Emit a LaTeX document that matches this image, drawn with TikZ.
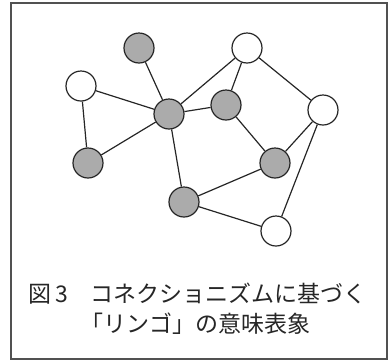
\documentclass[tikz,border=0pt]{standalone}
\usepackage{fontspec}
\newfontfamily\jfont{Noto Sans CJK JP}
\definecolor{nodegrey}{HTML}{ABABAB}
\definecolor{ink}{HTML}{262626}
\begin{document}
\begin{tikzpicture}[x=1bp,y=-1bp,
  unit/.style={circle,draw=ink,line width=1.2bp,minimum size=30bp,inner sep=0pt},
  on/.style={unit,fill=nodegrey},
  off/.style={unit,fill=white},
  link/.style={draw=ink,line width=1.2bp},
  captxt/.style={font=\jfont\fontsize{23bp}{27bp}\selectfont,text=ink,inner sep=0pt}]
\useasboundingbox (0,0) rectangle (390,361);
\draw[draw=ink!80,line width=1.3bp] (11,3) rectangle (387,359);
\node[on]  (A) at (139,48) {};
\node[off] (B) at (247,48) {};
\node[off] (C) at (81,86) {};
\node[on]  (D) at (169,114) {};
\node[on]  (E) at (226,105) {};
\node[off] (F) at (323,110) {};
\node[on]  (G) at (88,163) {};
\node[on]  (H) at (275,163) {};
\node[on]  (I) at (184,202) {};
\node[off] (J) at (276,231) {};
\path[link] (A)--(D) (C)--(D) (C)--(G) (G)--(D) (D)--(B) (D)--(E) (D)--(I)
  (B)--(E) (B)--(F) (E)--(H) (H)--(F) (F)--(J) (I)--(H) (I)--(J);
\node[captxt] (cap1) at (197.5,294) {図\hspace{4bp}3　コネクショニズムに基づく};
\node[captxt] (cap2) at (196,324) {「リンゴ」の意味表象};
\end{tikzpicture}
\end{document}
